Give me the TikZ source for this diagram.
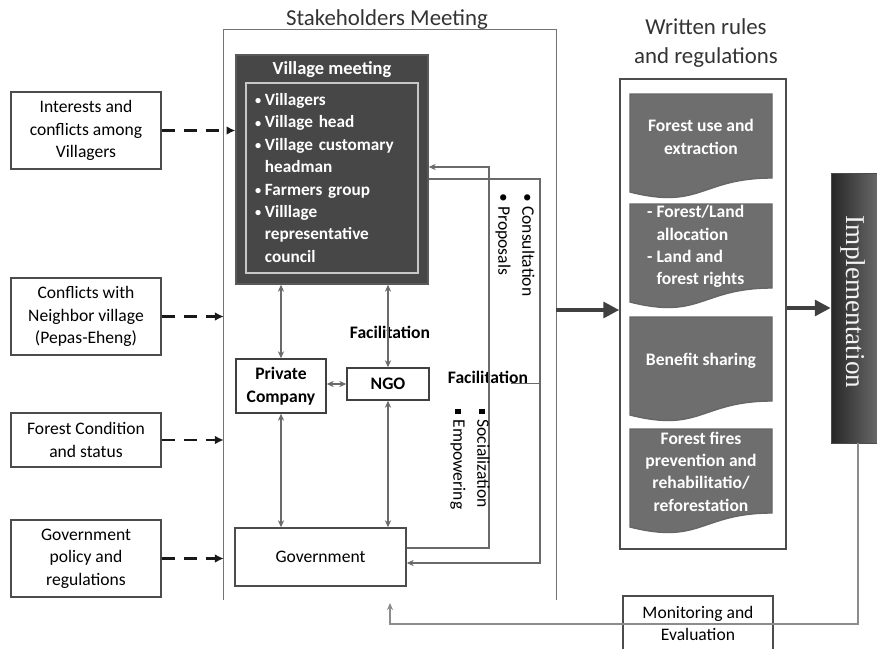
\documentclass[tikz,border=0pt]{standalone}
\usepackage{fontspec}
\setmainfont{Carlito}
\newfontfamily\implfont{Liberation Serif}
\usetikzlibrary{arrows.meta,positioning,calc}

\def\pxu{0.02cm}
\newcommand\itm{\makebox[0.2cm][l]{\raisebox{0.1ex}{\fontsize{7}{7}\selectfont\textbullet}}}
\newcommand\ind{\hspace*{0.2cm}}
\newcommand\sqb{\rule[0.2ex]{0.32em}{0.32em}\hspace{0.3em}}

\definecolor{vmgray}{HTML}{474747}
\definecolor{docgray}{HTML}{6E6E6E}
\definecolor{linegray}{HTML}{6A6A6A}

\tikzset{
  inbox/.style={draw=black!70, line width=0.8pt, fill=white, align=center, inner sep=1pt,
    font=\fontsize{10}{12.8}\selectfont},
  actor/.style={draw=black!75, line width=0.8pt, fill=white, align=center, inner sep=1pt,
    font=\bfseries\fontsize{10}{12.8}\selectfont},
  frame/.style={draw=black!55, line width=0.6pt},
  dasharrow/.style={line width=1.4pt, black!90, dash pattern=on 13*\pxu off 9*\pxu,
    -{Latex[length=5pt,width=5pt]}},
  link/.style={linegray, line width=0.6pt, {Stealth[length=4pt,width=3.5pt]}-{Stealth[length=4pt,width=3.5pt]}},
  feed/.style={linegray, line width=0.6pt, -{Stealth[length=4pt,width=3.5pt]}},
  bigarrow/.style={line width=2pt, black!75, -{Triangle[length=9pt,width=9pt]}},
  docbox/.style={fill=docgray, draw=black!60, line width=0.8pt},
  doctext/.style={text=white, align=center, font=\bfseries\fontsize{10}{12.7}\selectfont},
  rotlabel/.style={rotate=-90, align=left, inner sep=0pt, font=\fontsize{10}{13.6}\selectfont}
}

\begin{document}
\begin{tikzpicture}[x=\pxu, y=-\pxu]
\useasboundingbox (0,0) rectangle (877,649);
\clip (0,0) rectangle (877,649);

% stakeholders meeting
\node[minimum width=332*\pxu, minimum height=570*\pxu, inner sep=0pt] (stake) at (390,315) {};
\draw[frame] (stake.south west) -- (stake.north west) -- (stake.north east) -- (stake.south east);
\node[text=black!80, font=\fontsize{13}{15}\selectfont] (staketitle) at (387,20) {Stakeholders Meeting};

% village meeting
\node[fill=vmgray, draw=black!65, line width=0.8pt, minimum width=192*\pxu, minimum height=229*\pxu] (vm) at (332,169.5) {};
\node[text=white, font=\bfseries\fontsize{10.5}{12.8}\selectfont] (vmtitle) at (332,70) {Village meeting};
\node[draw=black!22, line width=1pt, minimum width=172*\pxu, minimum height=190*\pxu, text width=154*\pxu,
  align=left, text=white, font=\bfseries\fontsize{9.8}{12.75}\selectfont] (vmlist) at (332,178)
  {\itm Villagers\\\itm Village head\\\itm Village customary\\\ind headman\\\itm Farmers group\\\itm Villlage\\\ind representative\\\ind council};

% inputs
\node[inbox, minimum width=150*\pxu, minimum height=77*\pxu] (interests) at (86,130.5) {Interests and\\conflicts among\\Villagers};
\node[inbox, minimum width=150*\pxu, minimum height=77*\pxu] (neighbor) at (86,316.5) {Conflicts with\\Neighbor village\\(Pepas-Eheng)};
\node[inbox, minimum width=150*\pxu, minimum height=54*\pxu] (condition) at (86,440) {Forest Condition\\and status};
\node[inbox, minimum width=150*\pxu, minimum height=77*\pxu] (policy) at (86,558.5) {Government\\policy and\\regulations};

\draw[dasharrow] (interests.east) -- (interests.east -| vm.west);
\draw[dasharrow] (neighbor.east) -- (neighbor.east -| stake.west);
\draw[dasharrow] (condition.east) -- (condition.east -| stake.west);
\draw[dasharrow] (policy.east) -- (policy.east -| stake.west);

% actors
\node[actor, minimum width=90*\pxu, minimum height=54*\pxu] (pc) at (281,386) {Private\\Company};
\node[actor, minimum width=82*\pxu, minimum height=32*\pxu] (ngo) at (388,384) {NGO};
\node[inbox, minimum width=171*\pxu, minimum height=58*\pxu] (gov) at (320.5,557) {Government};
\node[font=\bfseries\fontsize{10}{12}\selectfont] (fac1) at (390,332) {Facilitation};
\node[font=\bfseries\fontsize{10}{12}\selectfont, inner sep=0pt] (fac2) at (488,377) {Facilitation};

\draw[link] (pc.north) -- (pc.north |- vm.south);
\draw[link] (ngo.north) -- (ngo.north |- vm.south);
\draw[link] (pc.east |- ngo.west) -- (ngo.west);
\draw[link] (pc.south) -- (pc.south |- gov.north);
\draw[link] (ngo.south) -- (ngo.south |- gov.north);

% consultation loop
\coordinate (tapB) at (540,384);
\draw[feed] (gov.east |- 0,548) -| (489,167) -- (vm.east |- 0,167);
\draw[feed] (vm.east |- 0,179) -| (540,563) -- (gov.east |- 0,563);
\draw[linegray, line width=0.6pt] ([xshift=-17*\pxu]fac2.base east) -- (fac2.base east -| tapB);
\node[rotlabel] (consult) at (515,245) {\textbullet\ Consultation\\\textbullet\ Proposals};
\node[rotlabel] (social) at (470,459) {\sqb Socialization\\\sqb Empowering};

% written rules
\node[text=black!80, align=center, font=\fontsize{13}{17}\selectfont] (rulestitle) at (706,43) {Written rules\\and regulations};
\node[draw=black!70, line width=0.9pt, fill=white, minimum width=166*\pxu, minimum height=470*\pxu] (rules) at (703,314) {};
\foreach \t in {94,204,317,429}
  \draw[docbox] (630,\t) -- (772,\t) -- (772,\t+84) .. controls (701,\t+84) and (701,\t+116) .. (630,\t+98) -- cycle;
\node[doctext] (doca) at (701,137) {Forest use and\\extraction};
\node[doctext, align=left, anchor=west] (docb) at (641,246.5) {- Forest/Land\\\phantom{-} allocation\\- Land and\\\phantom{-} forest rights};
\node[doctext] (docc) at (701,361) {Benefit sharing};
\node[doctext] (docd) at (701,471.5) {Forest fires\\prevention and\\rehabilitatio/\\reforestation};

\draw[bigarrow] (stake.east |- 0,310) -- (rules.west |- 0,310);

% implementation
\node[left color=black!85, right color=black!55, draw=black!70, minimum width=54*\pxu, minimum height=270*\pxu] (impl) at (858,308) {};
\node[rotate=-90, text=black!5, font=\implfont\fontsize{15.5}{18}\selectfont] (impltext) at (853,302) {Implementation};
\draw[bigarrow] (rules.east |- impl.west) -- (impl.west);

% monitoring
\node[inbox, minimum width=150*\pxu, minimum height=55*\pxu] (monitor) at (698,623.5) {Monitoring and\\Evaluation};
\coordinate (back) at (390,603);
\draw[feed, black!45] (impl.south) |- (back |- 0,624) -- (back);
\end{tikzpicture}
\end{document}
